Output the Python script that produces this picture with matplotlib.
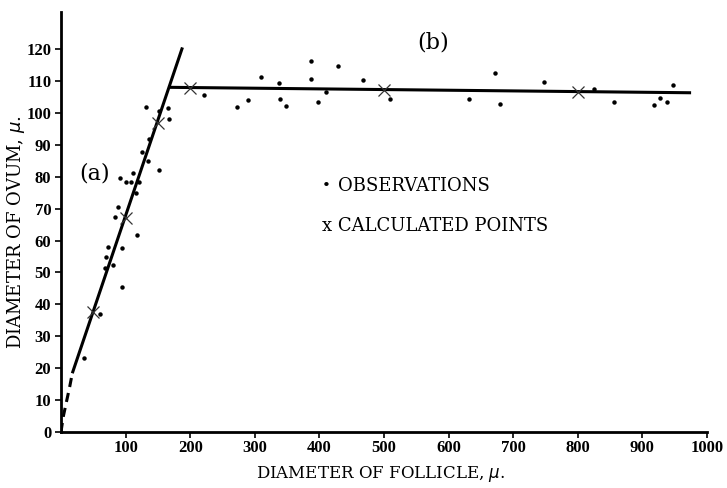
import numpy as np
import matplotlib.pyplot as plt

# observations, left limb (a)
obs_a_x = [35, 60, 68, 69, 72, 81, 83, 88, 92, 94, 95, 101, 108, 112, 116,
           118, 121, 125, 132, 135, 137, 152, 152, 165, 167]
obs_a_y = [23.2, 36.9, 51.5, 54.8, 58.1, 52.2, 67.5, 70.6, 79.5, 45.4, 57.8,
           78.2, 78.4, 81.0, 74.8, 61.8, 78.4, 87.6, 101.8, 85.0, 91.8, 100.7,
           82.1, 101.4, 98.0]
# observations, plateau (b)
obs_b_x = [222, 272, 289, 309, 338, 339, 349, 387, 387, 398, 410, 429, 468,
           510, 632, 672, 679, 747, 825, 856, 918, 928, 938, 947]
obs_b_y = [105.7, 101.9, 104.1, 111.2, 109.3, 104.3, 102.2, 116.3, 110.7,
           103.3, 106.4, 114.6, 110.2, 104.3, 104.4, 112.6, 102.7, 109.7,
           107.4, 103.3, 102.5, 104.8, 103.4, 108.7]

calc_x = [50, 100, 150, 200, 500, 800]
calc_y = [37.5, 67.2, 96.8, 107.8, 107.2, 106.6]

# fitted lines
line_a_x = [17.5, 188]
line_a_y = [18.4, 120.5]
dash_x = [0, 3.5, 8.5, 13.5, 17.5]
dash_y = [0, 4.8, 9.5, 14.2, 18.4]
line_b_x = [168, 973]
line_b_y = [108.0, 106.3]

fig = plt.figure(figsize=(7.27, 4.88), dpi=100)
ax = fig.add_axes([0.0839, 0.1148, 0.8886, 0.8606])

ax.plot(line_a_x, line_a_y, color='black', lw=2.2, solid_capstyle='butt')
ax.plot(dash_x, dash_y, color='black', lw=2.2, ls=(0, (3, 2)))
ax.plot(line_b_x, line_b_y, color='black', lw=2.2)

ax.plot(obs_a_x + obs_b_x, obs_a_y + obs_b_y, 'o', color='black', ms=3.2, mew=0)
ax.plot(calc_x, calc_y, 'x', color='#333333', ms=8, mew=0.9)

ax.set_xlim(0, 1000)
ax.set_ylim(0, 131.6)
ax.spines['top'].set_visible(False)
ax.spines['right'].set_visible(False)
ax.spines['left'].set_linewidth(2)
ax.spines['bottom'].set_linewidth(2)

ax.set_xticks(np.arange(100, 1001, 100))
ax.set_yticks(np.arange(0, 121, 10))
ax.tick_params(direction='out', length=4, width=1.2)
ax.tick_params(axis='y', pad=3)
ax.tick_params(axis='x', pad=2)
for lab in ax.get_xticklabels() + ax.get_yticklabels():
    lab.set_fontfamily('Liberation Serif')
    lab.set_fontweight('bold')
    lab.set_fontsize(12)

serif = 'DejaVu Serif'
ax.text(52, 81, '(a)', fontsize=16, family=serif, ha='center', va='center')
ax.text(576, 122, '(b)', fontsize=16, family=serif, ha='center', va='center')
ax.text(410, 77, '•', fontsize=11, family=serif, ha='center', va='center')
ax.text(429, 77, 'OBSERVATIONS', fontsize=13, family=serif, va='center')
ax.text(404, 64.6, 'x CALCULATED POINTS', fontsize=13, family=serif, va='center')

fig.text(0.524, 0.008, r'DIAMETER OF FOLLICLE, $\mu$.', fontsize=12,
         family=serif, ha='center', va='bottom')
fig.text(0.022, 0.525, r'DIAMETER OF OVUM, $\mu$.', fontsize=13, family=serif,
         rotation=90, ha='center', va='center')

fig.savefig('out.png', dpi=100)
